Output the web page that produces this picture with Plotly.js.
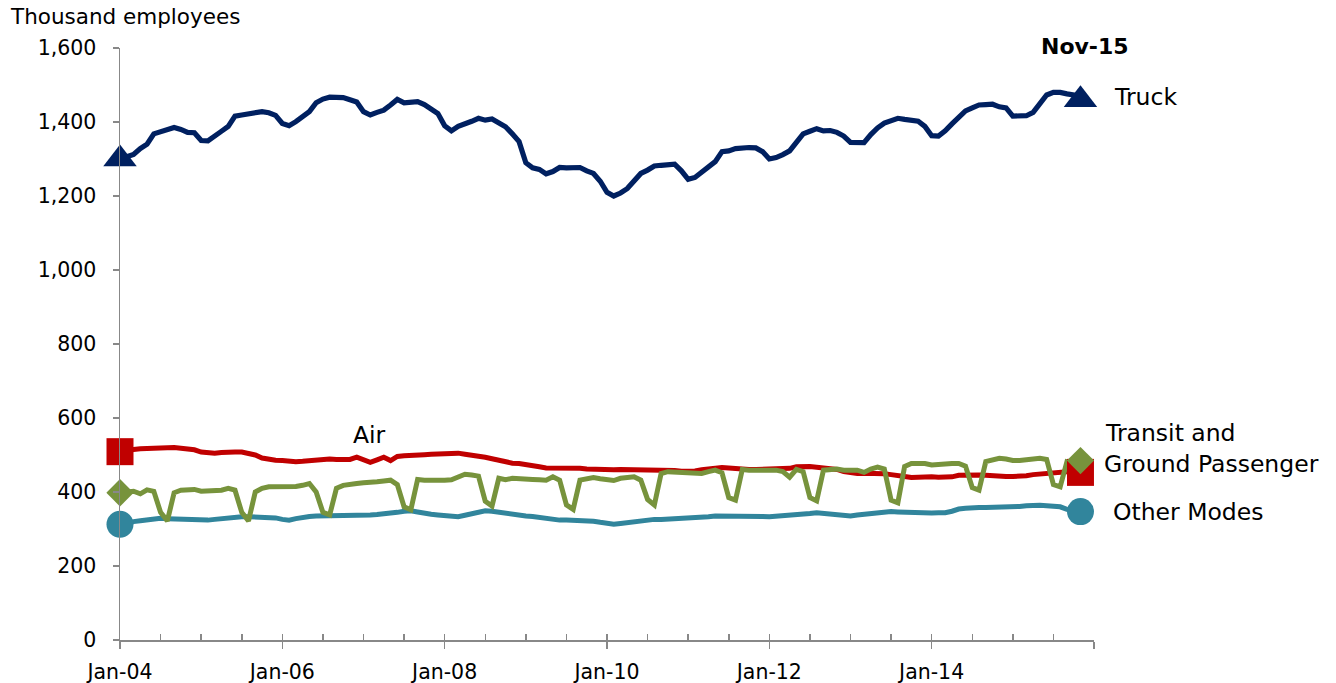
<!DOCTYPE html>
<html>
<head>
<meta charset="utf-8">
<script src="https://cdn.plot.ly/plotly-3.0.1.min.js"></script>
<style>html,body{margin:0;padding:0;background:#fff;}#chart{width:1336px;height:683px;}</style>
</head>
<body>
<div id="chart"></div>
<script>
// Monthly employment, thousands, Jan-04 .. Nov-15 (143 months)
const tickLabels = ['Jan-04','Jan-06','Jan-08','Jan-10','Jan-12','Jan-14',''];
const yTicks = [0,200,400,600,800,1000,1200,1400,1600];

const truck = [
1300,1305,1312,1328,1340,1368,1374,1380,1385,1380,1372,1371,
1350,1349,1360,1375,1388,1416,1419,1423,1425,1428,1425,1418,
1396,1390,1401,1416,1428,1452,1462,1467,1467,1466,1460,1454,
1428,1419,1426,1432,1446,1461,1452,1454,1455,1447,1435,1423,
1390,1376,1388,1394,1402,1410,1405,1408,1398,1387,1368,1347,
1290,1276,1272,1260,1266,1277,1276,1277,1277,1268,1261,1240,
1210,1200,1208,1220,1240,1261,1270,1281,1283,1284,1286,1268,
1245,1250,1265,1276,1293,1320,1322,1328,1330,1331,1330,1320,
1300,1304,1312,1322,1345,1368,1375,1382,1376,1377,1372,1362,
1345,1344,1344,1366,1384,1397,1404,1410,1407,1405,1402,1388,
1363,1362,1376,1395,1413,1430,1438,1446,1447,1448,1441,1438,
1416,1416,1417,1426,1450,1473,1480,1480,1476,1473,1460];

const air = [
509,513,515,517,518,520,521,522,520,518,516,514,
508,505,505,507,509,508,508,505,500,492,488,486,
485,483,482,483,485,486,488,489,488,487,488,494,
487,480,487,494,485,496,498,500,502,501,502,503,
504,505,505,502,500,498,494,490,486,481,478,477,
475,471,468,465,465,466,466,465,464,462,461,460,
459,460,461,461,461,461,461,461,460,459,458,456,
455,457,460,463,465,466,465,463,462,461,461,461,
461,461,461,464,468,470,469,467,466,465,461,455,
451,450,451,451,451,449,447,446,442,439,440,442,
441,440,439,441,445,446,446,446,445,443,442,442,
442,442,444,447,449,451,453,454,455,455,453];

const transit = [
398,400,402,395,406,402,345,322,398,405,406,407,
402,403,402,405,410,405,345,322,400,410,414,414,
415,415,415,418,423,400,345,338,410,418,422,423,
425,425,428,430,432,420,360,352,434,432,431,432,
432,433,440,448,446,443,375,362,437,433,437,437,
436,434,433,432,441,432,365,353,432,437,439,436,
433,431,437,439,441,432,380,365,450,455,454,451,
449,449,450,455,459,452,385,378,461,459,459,459,
459,459,455,440,461,455,385,376,459,461,462,459,
459,459,453,462,467,462,378,371,469,477,477,477,
473,475,476,477,477,470,412,405,482,488,491,489,
485,485,487,489,491,488,420,414,482,478,485];

const other = [
313,318,320,322,325,328,329,328,327,326,325,324,
324,324,326,328,332,333,333,333,332,332,332,330,
326,324,328,332,334,335,335,335,335,335,335,336,
337,338,339,340,342,345,348,349,346,342,340,338,
336,334,333,337,342,345,349,348,345,344,342,338,
335,334,331,329,326,324,324,324,324,323,321,318,
315,313,315,317,320,323,326,326,326,327,328,328,
327,329,331,333,335,335,335,335,336,337,336,334,
333,334,335,337,338,340,342,344,342,340,338,336,
335,338,340,342,344,346,347,346,345,344,344,344,
343,344,344,348,354,356,358,358,358,358,358,359,
360,361,363,365,364,363,362,360,353,350,347];

const months = truck.map((_, i) => i);
const last = months.length - 1;

const C = {truck:'#002060', air:'#C00000', transit:'#77933C', other:'#31859C'};
const FONT = 'DejaVu Sans, Arial, sans-serif';

function lineTrace(y, color, w) {
  return {x: months, y: y, mode: 'lines', type: 'scatter', hoverinfo: 'skip', cliponaxis: false,
          line: {color: color, width: w, shape: 'linear'}, showlegend: false};
}
function endMarkers(y, color, symbol, size) {
  return {x: [months[0], months[last]], y: [y[0], y[last]], mode: 'markers', type: 'scatter',
          hoverinfo: 'skip', showlegend: false, cliponaxis: false,
          marker: {symbol: symbol, size: size, color: color, line: {width: 0}}};
}

const data = [
  lineTrace(other, C.other, 5),
  lineTrace(air, C.air, 5),
  lineTrace(transit, C.transit, 5),
  lineTrace(truck, C.truck, 5.2),
  endMarkers(other, C.other, 'circle', 27),
  endMarkers(air, C.air, 'square', 27),
  endMarkers(transit, C.transit, 'diamond', 21),
  endMarkers(truck, C.truck, 'triangle-up', 29),
  {x: [0], y: [0], xaxis: 'x2', mode: 'markers', marker: {opacity: 0}, hoverinfo: 'skip', showlegend: false}
];

// plot-area pixel frame
const L = 120, R = 1094, T = 48, B = 640;
const px = v => (v - L) / (R - L);
const py = v => (B - v) / (B - T);

const majorVals = tickLabels.map((_, i) => i * 24);
const minorVals = Array.from({length: 25}, (_, i) => i * 6);

function ann(text, xp, yp, size, xanchor, bold) {
  return {text: bold ? '<b>' + text + '</b>' : text, xref: 'paper', yref: 'paper',
          x: px(xp), y: py(yp), xanchor: xanchor, yanchor: 'middle', showarrow: false,
          font: {family: FONT, size: size, color: '#000'}};
}

const layout = {
  width: 1336, height: 683,
  margin: {l: L, r: 1336 - R, t: T, b: 683 - B, pad: 0},
  paper_bgcolor: '#fff', plot_bgcolor: '#fff',
  showlegend: false,
  xaxis: {
    range: [0, 144], fixedrange: true, showgrid: false, zeroline: false,
    showline: true, linecolor: '#888888', linewidth: 1.5,
    tickmode: 'array', tickvals: majorVals, ticktext: tickLabels,
    ticks: 'outside', ticklen: 7, tickwidth: 1.5, tickcolor: '#888888',
    ticklabelstandoff: 6,
    tickfont: {family: FONT, size: 20.5, color: '#000'}
  },
  xaxis2: {
    overlaying: 'x', anchor: 'y', side: 'bottom',
    range: [0, 144], fixedrange: true, showgrid: false, zeroline: false, showline: false,
    tickmode: 'array', tickvals: minorVals, ticks: 'inside', ticklen: 6, tickwidth: 1.5,
    tickcolor: '#888888', showticklabels: false
  },
  yaxis: {
    range: [0, 1600], fixedrange: true, showgrid: false, zeroline: false,
    showline: true, linecolor: '#888888', linewidth: 1.5,
    tickmode: 'array', tickvals: yTicks, tickformat: ',d',
    ticks: 'outside', ticklen: 6, tickwidth: 1.5, tickcolor: '#888888',
    ticklabelstandoff: 12,
    tickfont: {family: FONT, size: 20.5, color: '#000'}
  },
  annotations: [
    ann('Thousand employees', 8, 16, 21.5, 'left'),
    ann('Nov-15', 1085, 47, 22, 'center', true),
    ann('Truck', 1112, 97, 23.5, 'left'),
    ann('Air', 369, 435, 23.5, 'center'),
    ann('Transit and', 1103, 433, 23.5, 'left'),
    ann('Ground Passenger', 1102, 464, 23.5, 'left'),
    ann('Other Modes', 1111, 512, 23.5, 'left')
  ]
};

Plotly.newPlot('chart', data, layout, {displayModeBar: false, staticPlot: true});
</script>
</body>
</html>
